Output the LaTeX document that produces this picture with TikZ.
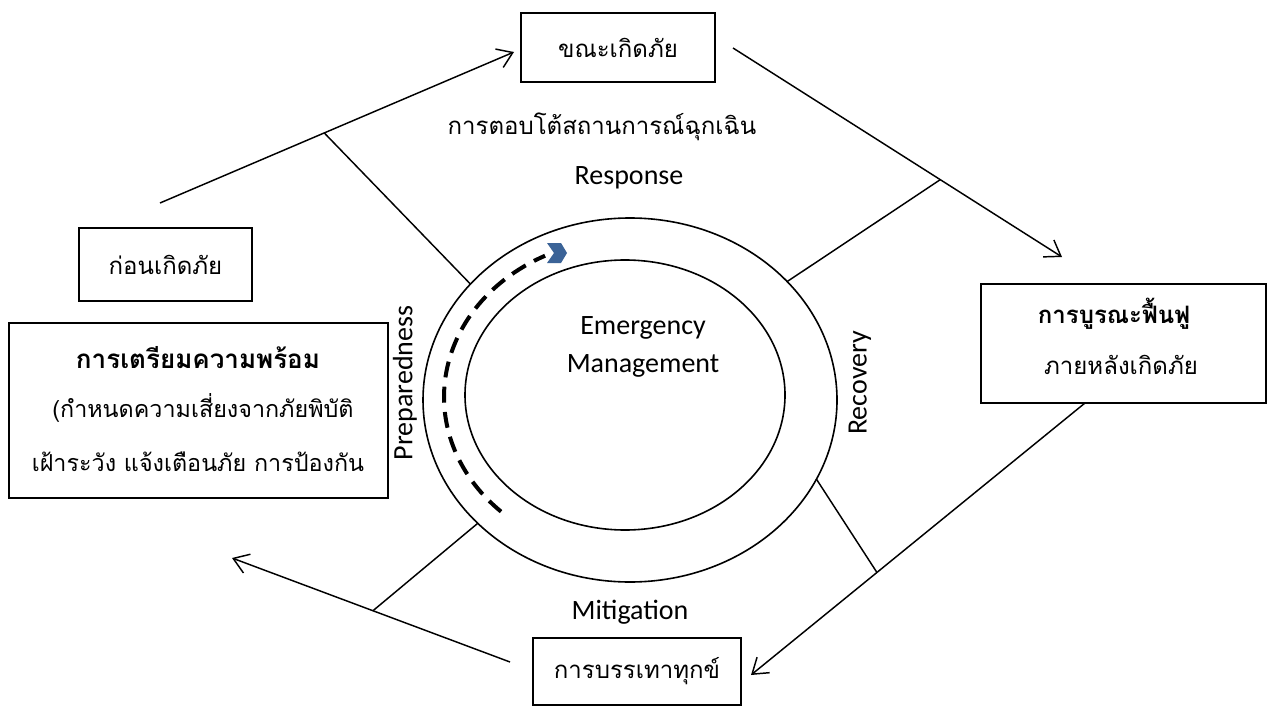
\documentclass[tikz,border=0pt]{standalone}
\usepackage{fontspec}
\setmainfont{Carlito}
\newfontfamily\thaifont[Script=Thai]{Loma}
\usetikzlibrary{arrows.meta,calc,shapes.geometric}
\definecolor{chevblue}{HTML}{3B6397}
\begin{document}
\begin{tikzpicture}[x=0.75pt,y=-0.75pt,
  line width=1.1pt,
  box/.style={draw, rectangle, line width=1.2pt, inner sep=0pt, outer sep=0pt},
  ring/.style={draw, ellipse, line width=1.2pt, inner sep=0pt, outer sep=0pt},
  th/.style={font=\thaifont\fontsize{18}{21}\selectfont, inner sep=0pt},
  ths/.style={font=\thaifont\fontsize{17.5}{21}\selectfont, inner sep=0pt},
  thb/.style={font=\thaifont\bfseries\fontsize{18}{21}\selectfont, inner sep=0pt},
  en/.style={font=\fontsize{21}{24}\selectfont, inner sep=0pt},
  flow/.style={-{Straight Barb[length=11pt,width=15pt]}},
  spoke/.style={line width=1.1pt},
  dashedarc/.style={line width=3pt, dash pattern=on 12pt off 7pt},
]
\useasboundingbox (0,0) rectangle (1276,709);
\fill[white] (0,0) rectangle (1276,709);

% rings
\node[ring, minimum width=310.5pt, minimum height=273pt] (outer) at (630,400) {};
\node[ring, minimum width=240pt, minimum height=202.5pt] (inner) at (625,395) {};

% boxes
\node[box, th, minimum width=145.5pt, minimum height=51.75pt] (during) at (618,47.5) {ขณะเกิดภัย};
\node[box, th, minimum width=129.75pt, minimum height=54.75pt] (before) at (165.5,264.5) {ก่อนเกิดภัย};
\node[box, minimum width=284.25pt, minimum height=131.25pt] (prep) at (198.5,410.5) {};
\node[box, minimum width=213.75pt, minimum height=89.25pt] (recov) at (1123.5,343.5) {};
\node[box, th, minimum width=156pt, minimum height=50.25pt] (mitig) at (637,671.5) {การบรรเทาทุกข์};

% texts
\node[thb, font=\thaifont\bfseries\fontsize{19.5}{23}\selectfont] (prep1) at (198,358) {การเตรียมความพร้อม};
\node[ths] (prep2) at (203,408) {(กำหนดความเสี่ยงจากภัยพิบัติ};
\node[ths] (prep3) at (198,462) {เฝ้าระวัง แจ้งเตือนภัย การป้องกัน};
\node[thb] (recov1) at (1114,314) {การบูรณะฟื้นฟู};
\node[th] (recov2) at (1121,365) {ภายหลังเกิดภัย};
\node[th] (resp-th) at (602,127) {การตอบโต้สถานการณ์ฉุกเฉิน};
\node[en] (resp) at (629,178) {Response};
\node[en] (em1) at (643,328) {Emergency};
\node[en] (em2) at (643,366) {Management};
\node[en, rotate=90] (prepen) at (405,383) {Preparedness};
\node[en, rotate=90] (recoven) at (860,383) {Recovery};
\node[en] (mitigen) at (630,612) {Mitigation};

% flow arrows
\coordinate (a1s) at (160,203);
\coordinate (a1e) at (514,52);
\coordinate (a2s) at (733,48);
\coordinate (a2e) at (1062,257);
\coordinate (a3s) at ($(recov.south)+(-38.5,0)$);
\coordinate (a3e) at (751,675);
\coordinate (a4s) at (510,662);
\coordinate (a4e) at (232,558);
\draw[flow] (a1s) -- (a1e);
\draw[flow] (a2s) -- (a2e);
\draw[flow] (a3s) -- (a3e);
\draw[flow] (a4s) -- (a4e);

% spokes
\draw[spoke] ($(a1s)!0.464!(a1e)$) -- (outer.144.5);
\draw[spoke] (outer.37.5) -- ($(a2s)!0.63!(a2e)$);
\draw[spoke] (outer.-23.6) -- ($(a3s)!0.623!(a3e)$);
\draw[spoke] (outer.219.6) -- ($(a4s)!0.493!(a4e)$);

% dashed arc and chevron
\draw[dashedarc] plot[domain=133.5:243.4, samples=60] ({627+183*cos(\x)},{397+158*sin(\x)});
\fill[chevblue] (547,243) -- (561,243) -- (567,253) -- (561,263) -- (547,263) -- (554,253) -- cycle;
\end{tikzpicture}
\end{document}
